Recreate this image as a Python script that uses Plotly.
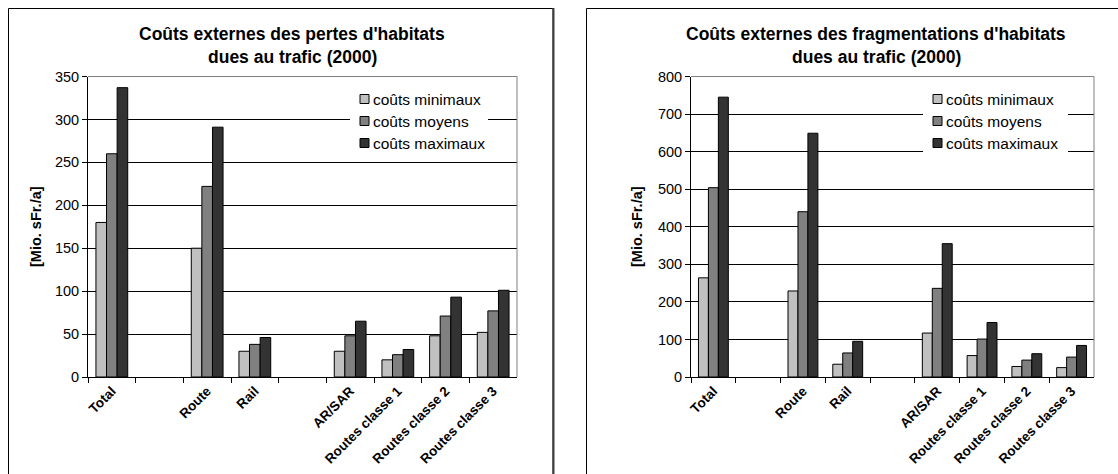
import plotly.graph_objects as go

W, H = 1118, 474

categories = ["Total", " ", "Route", "Rail", "  ", "AR/SAR",
              "Routes classe 1", "Routes classe 2", "Routes classe 3"]
series_names = ["coûts minimaux", "coûts moyens", "coûts maximaux"]
series_colors = ["#C0C0C0", "#808080", "#333333"]

pertes_min = [180, None, 150, 30, None, 30, 20, 48, 52]
pertes_moy = [260, None, 222, 38, None, 48, 26, 71, 77]
pertes_max = [337, None, 291, 46, None, 65, 32, 93, 101]

frag_min = [264, None, 229, 34, None, 117, 57, 28, 25]
frag_moy = [504, None, 440, 64, None, 236, 101, 45, 53]
frag_max = [745, None, 649, 95, None, 355, 145, 62, 84]

title_left = ["Coûts externes des pertes d'habitats", "dues au trafic (2000)"]
title_right = ["Coûts externes des fragmentations d'habitats", "dues au trafic (2000)"]
y_title = "[Mio. sFr./a]"

FONT = "Liberation Sans, Arial, sans-serif"


def px(x):
    return x / W


def py(y):
    return 1 - y / H


fig = go.Figure()

for vals, name, col in zip([pertes_min, pertes_moy, pertes_max], series_names, series_colors):
    fig.add_trace(go.Bar(x=categories, y=vals, name=name, marker_color=col,
                         marker_line_color="black", marker_line_width=1,
                         xaxis="x", yaxis="y", showlegend=False))
for vals, name, col in zip([frag_min, frag_moy, frag_max], series_names, series_colors):
    fig.add_trace(go.Bar(x=categories, y=vals, name=name, marker_color=col,
                         marker_line_color="black", marker_line_width=1,
                         xaxis="x2", yaxis="y2", showlegend=False))

ydom = [py(377), py(76.5)]

xaxis_common = dict(type="category", tickson="boundaries", ticks="outside", ticklen=5,
                    tickcolor="black", showline=True, linecolor="black", linewidth=1,
                    tickangle=-45, showgrid=False, automargin=False,
                    tickfont=dict(family=FONT, size=13.5, color="black", weight="bold"),
                    categoryorder="array", categoryarray=categories, fixedrange=True)
yaxis_common = dict(ticks="outside", ticklen=5, tickcolor="black", showline=True,
                    linecolor="black", linewidth=1, showgrid=True, gridcolor="black",
                    gridwidth=1, zeroline=False, automargin=False,
                    tickfont=dict(family=FONT, size=14.5, color="black"), domain=ydom)

fig.update_layout(
    template="none",
    width=W, height=H,
    margin=dict(l=0, r=0, t=0, b=0, autoexpand=False),
    paper_bgcolor="white", plot_bgcolor="white",
    barmode="group", bargap=0.333, bargroupgap=0,
    xaxis=dict(domain=[px(88), px(517)], anchor="y", **xaxis_common),
    yaxis=dict(range=[0, 350], dtick=50, anchor="x", **yaxis_common),
    xaxis2=dict(domain=[px(691), px(1094)], anchor="y2", **xaxis_common),
    yaxis2=dict(range=[0, 800], dtick=100, anchor="x2", **yaxis_common),
    showlegend=False,
)

shapes = []
# panel frames
shapes.append(dict(type="rect", xref="paper", yref="paper", x0=px(8.5), x1=px(553), y0=-0.1, y1=py(8.5),
                   line=dict(color="black", width=1), layer="below"))
shapes.append(dict(type="line", xref="paper", yref="paper", x0=px(553.5), x1=px(553.5), y0=-0.1, y1=py(8),
                   line=dict(color="#404040", width=2), layer="below"))
shapes.append(dict(type="rect", xref="paper", yref="paper", x0=px(586.5), x1=1.1, y0=-0.1, y1=py(8.5),
                   line=dict(color="black", width=1), layer="below"))
# gray plot-area borders (top, right)
for xr, yr in [("x domain", "y domain"), ("x2 domain", "y2 domain")]:
    shapes.append(dict(type="line", xref=xr, yref=yr, x0=0, x1=1, y0=1, y1=1,
                       line=dict(color="#808080", width=1), layer="above"))
    shapes.append(dict(type="line", xref=xr, yref=yr, x0=1, x1=1, y0=0, y1=1,
                       line=dict(color="#808080", width=1), layer="above"))

ann = []
# legends (one per panel): white box, small squares, labels
legend_rows = [99, 121, 143]
for sym_x, text_end in [(360, 482), (933, 1062)]:
    shapes.append(dict(type="rect", xref="paper", yref="paper",
                       x0=px(sym_x - 10), x1=px(text_end + 6),
                       y0=py(legend_rows[-1] + 11), y1=py(legend_rows[0] - 11),
                       fillcolor="white", line=dict(width=0), layer="above"))
    for ry, name, col in zip(legend_rows, series_names, series_colors):
        shapes.append(dict(type="rect", xref="paper", yref="paper",
                           x0=px(sym_x), x1=px(sym_x + 9), y0=py(ry + 4.5), y1=py(ry - 4.5),
                           fillcolor=col, line=dict(color="black", width=1), layer="above"))
        ann.append(dict(text=name, xref="paper", yref="paper", x=px(sym_x + 11), y=py(ry),
                        xanchor="left", yanchor="middle", showarrow=False,
                        font=dict(family=FONT, size=15.5, color="black")))
fig.update_layout(shapes=shapes)

for lines, cx in [(title_left, 292), (title_right, 876)]:
    for i, t in enumerate(lines):
        ann.append(dict(text=t, xref="paper", yref="paper", x=px(cx), y=py(34 + 22.5 * i),
                        xanchor="center", yanchor="middle", showarrow=False,
                        font=dict(family=FONT, size=17.5, color="black", weight="bold")))
for cx in [36, 637]:
    ann.append(dict(text=y_title, xref="paper", yref="paper", x=px(cx), y=py(227),
                    xanchor="center", yanchor="middle", showarrow=False, textangle=-90,
                    font=dict(family=FONT, size=14.5, color="black", weight="bold")))
fig.update_layout(annotations=ann)

fig.write_html("out.html")
